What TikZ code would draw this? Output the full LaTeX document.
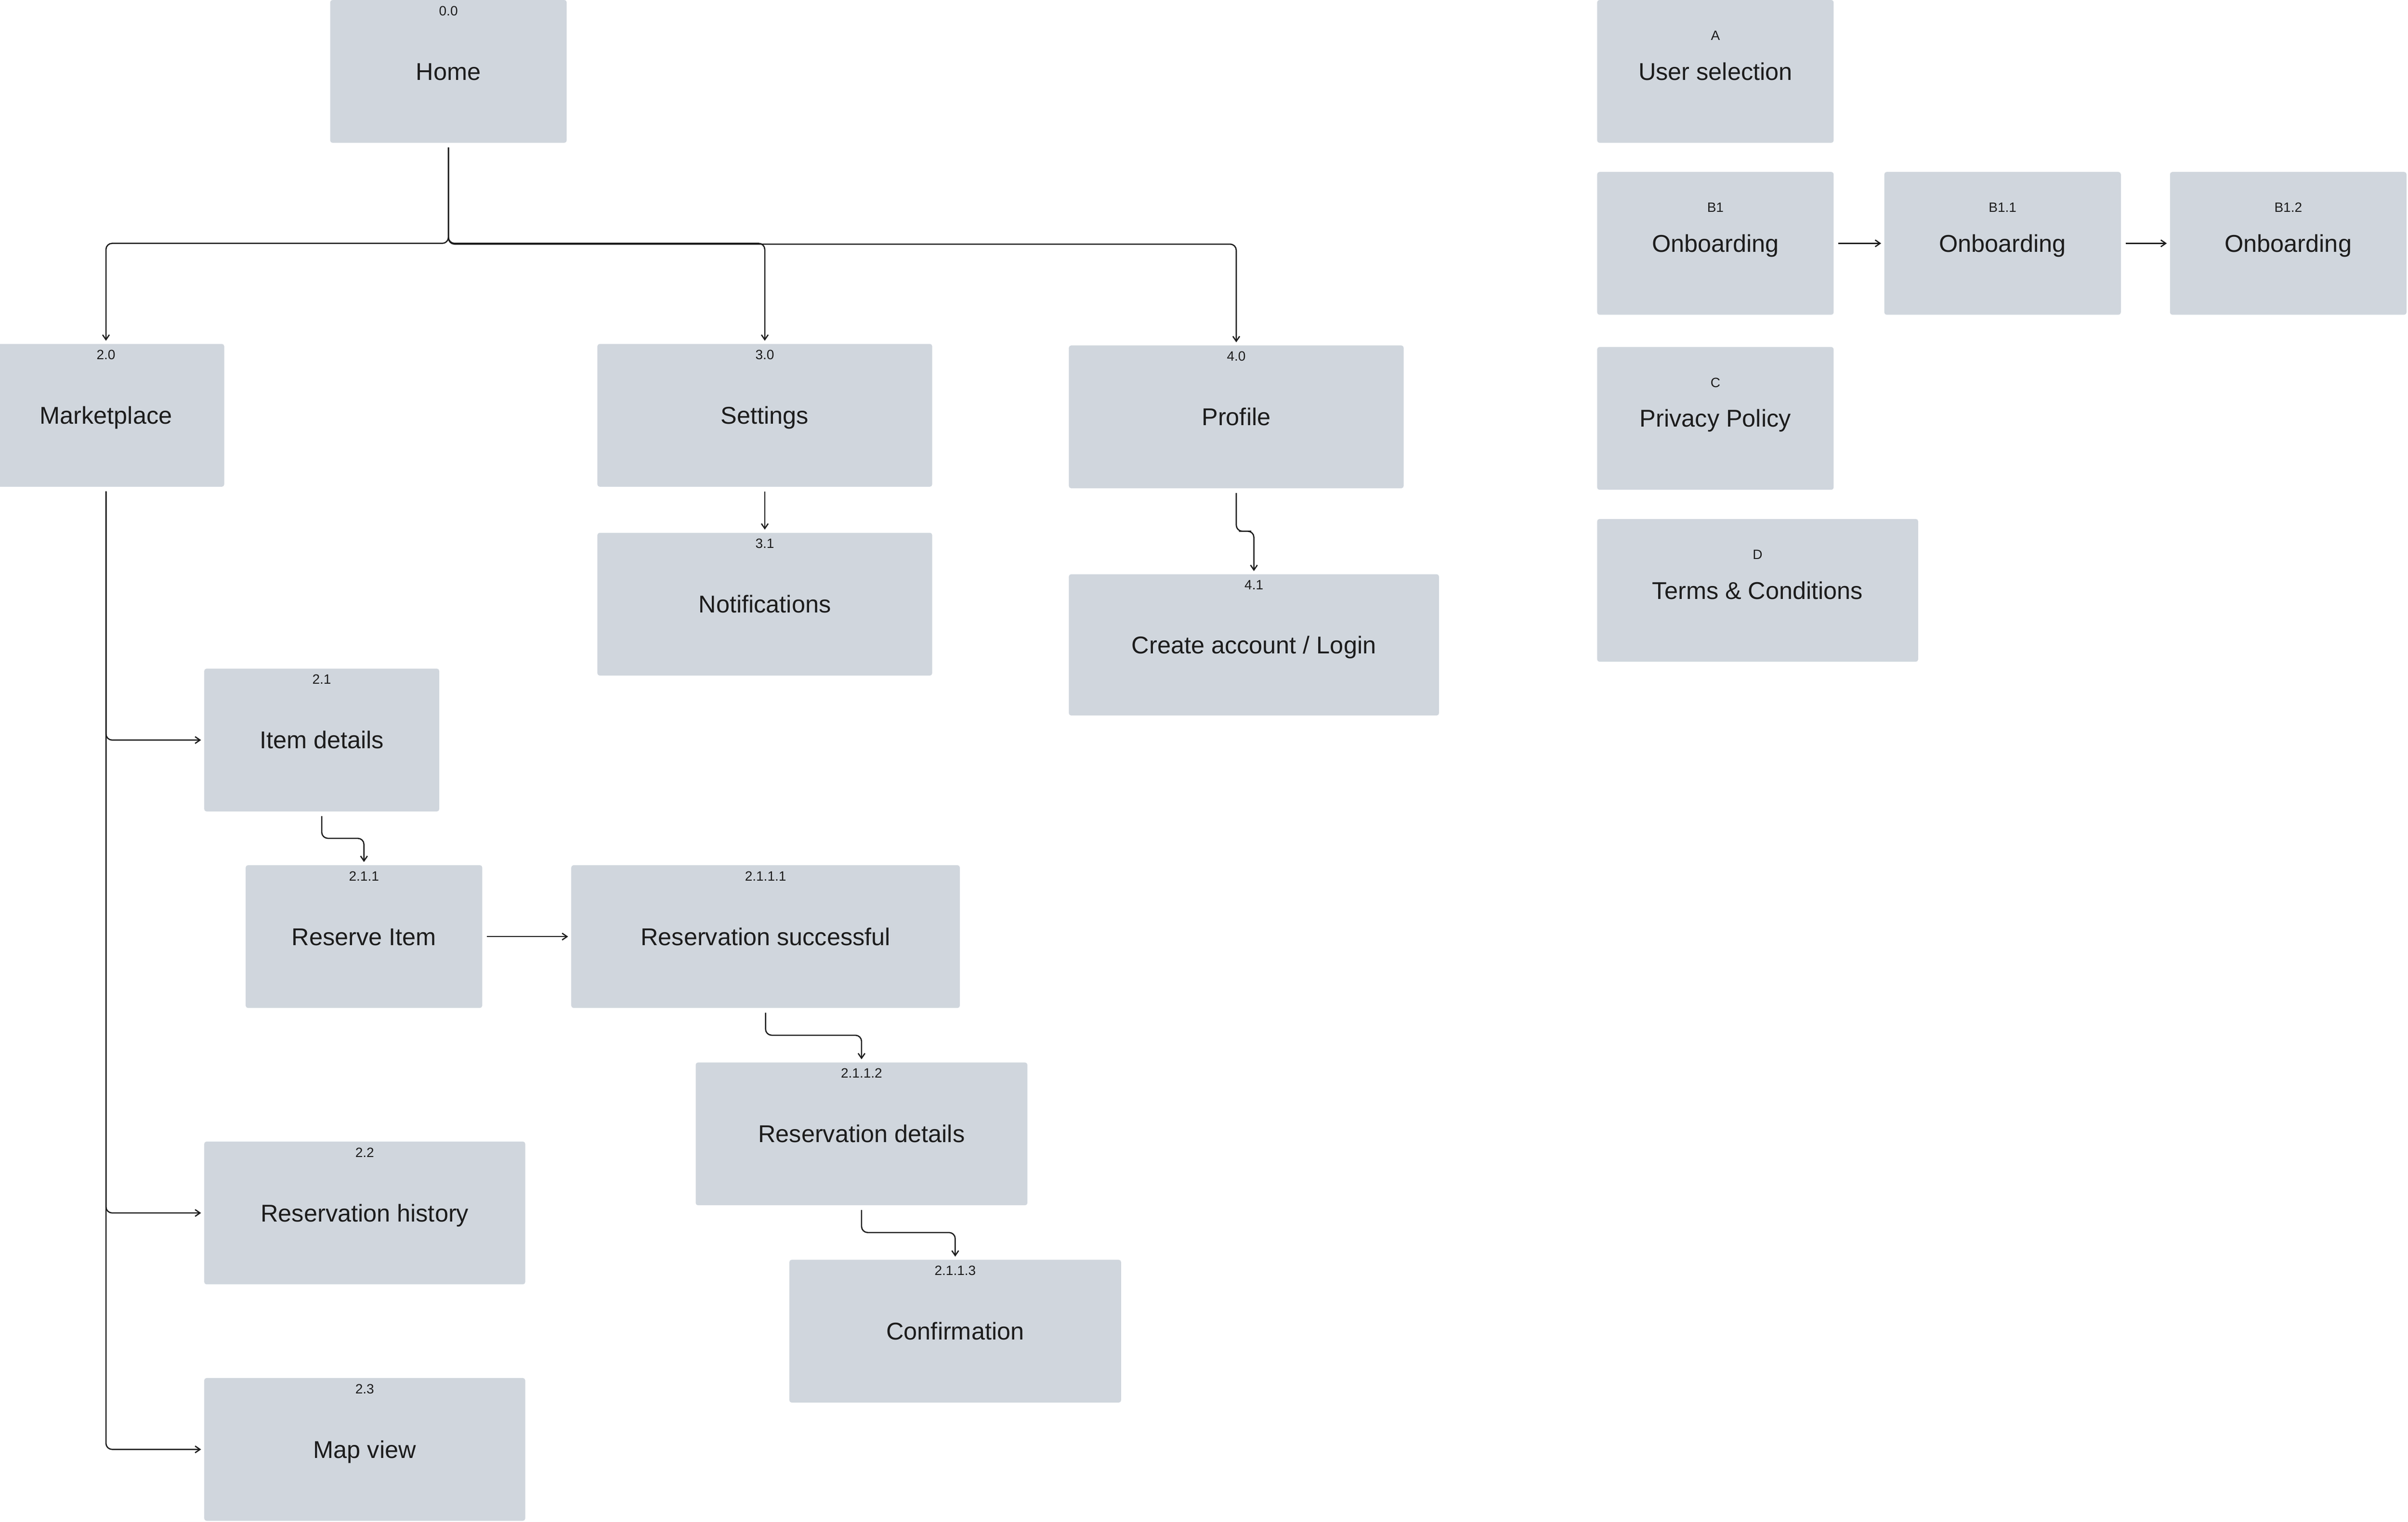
\documentclass[tikz,border=0pt]{standalone}
\usepackage{fontspec}
\setmainfont{Liberation Sans}
\usetikzlibrary{arrows.meta,calc}

\definecolor{screenfill}{RGB}{208,214,221}
\definecolor{ink}{RGB}{28,28,28}

\newcommand\bigtext{\fontsize{45}{54}\selectfont}
\newcommand\smalltext{\fontsize{25}{30}\selectfont}

\tikzset{
  screen/.style={fill=screenfill, rounded corners=1.5mm, minimum width=154mm, minimum height=93mm,
    inner sep=0pt, font=\bigtext, text=ink, text height=32pt, text depth=0pt},
  wide/.style={minimum width=218mm},
  tag/.style={font=\smalltext, text=ink, anchor=north, inner sep=3.75mm, text height=18pt, text depth=0pt},
  midtag/.style={font=\smalltext, text=ink, anchor=center, inner sep=0pt, yshift=23.5mm, text height=18pt, text depth=0pt},
  link/.style={draw=ink, line width=0.8mm, rounded corners=4mm, -{Straight Barb[length=3.2mm,width=4.4mm]},
    shorten <=3mm, shorten >=2mm},
}

\begin{document}
\begin{tikzpicture}[x=1mm,y=-1mm]
  \useasboundingbox (0,0) rectangle (1568,991.2);

  % app screens
  \node[screen, label={[tag]north:0.0}] (home) at (292,46.5) {Home};
  \node[screen, label={[tag]north:2.0}] (market) at (69,270.5) {Marketplace};
  \node[screen, wide, label={[tag]north:3.0}] (settings) at (498,270.5) {Settings};
  \node[screen, wide, label={[tag]north:4.0}] (profile) at (805,271.5) {Profile};
  \node[screen, wide, label={[tag]north:3.1}] (notif) at (498,393.5) {Notifications};
  \node[screen, minimum width=241mm, minimum height=92mm, label={[tag]north:4.1}] (login) at (816.5,420) {Create account / Login};

  \node[screen, minimum width=153mm, label={[tag]north:2.1}] (item) at (209.5,482) {Item details};
  \node[screen, label={[tag]north:2.1.1}] (reserve) at (237,610) {Reserve Item};
  \node[screen, minimum width=253mm, label={[tag]north:2.1.1.1}] (success) at (498.5,610) {Reservation successful};
  \node[screen, minimum width=216mm, label={[tag]north:2.1.1.2}] (details) at (561,738.5) {Reservation details};
  \node[screen, minimum width=216mm, label={[tag]north:2.1.1.3}] (confirm) at (622,867) {Confirmation};
  \node[screen, minimum width=209mm, label={[tag]north:2.2}] (history) at (237.5,790) {Reservation history};
  \node[screen, minimum width=209mm, label={[tag]north:2.3}] (map) at (237.5,944) {Map view};

  % side screens
  \node[screen, label={[midtag]center:A}] (usersel) at (1117,46.5) {User selection};
  \node[screen, label={[midtag]center:B1}] (onb) at (1117,158.5) {Onboarding};
  \node[screen, label={[midtag]center:B1.1}] (onbb) at (1304,158.5) {Onboarding};
  \node[screen, label={[midtag]center:B1.2}] (onbc) at (1490,158.5) {Onboarding};
  \node[screen, label={[midtag]center:C}] (privacy) at (1117,272.5) {Privacy Policy};
  \node[screen, minimum width=209mm, label={[midtag]center:D}] (terms) at (1144.5,384.5) {Terms \& Conditions};

  % links
  \draw[link] (home.south) |- ($(home.south)!0.5!(market.north)$) -| (market.north);
  \draw[link] (home.south) |- ($(home.south)!0.5!(settings.north)$) -| (settings.north);
  \draw[link] (home.south) |- ($(home.south)!0.5!(profile.north)$) -| (profile.north);
  \draw[link] (settings.south) -- (notif.north);
  \draw[link] (profile.south) |- ($(profile.south)!0.5!(login.north)$) -| (login.north);

  \draw[link] (market.south) |- (item.west);
  \draw[link] (market.south) |- (history.west);
  \draw[link] (market.south) |- (map.west);
  \draw[link] (item.south) |- ($(item.south)!0.5!(reserve.north)$) -| (reserve.north);
  \draw[link] (reserve.east) -- (success.west);
  \draw[link] (success.south) |- ($(success.south)!0.5!(details.north)$) -| (details.north);
  \draw[link] (details.south) |- ($(details.south)!0.5!(confirm.north)$) -| (confirm.north);

  \draw[link] (onb.east) -- (onbb.west);
  \draw[link] (onbb.east) -- (onbc.west);
\end{tikzpicture}
\end{document}
